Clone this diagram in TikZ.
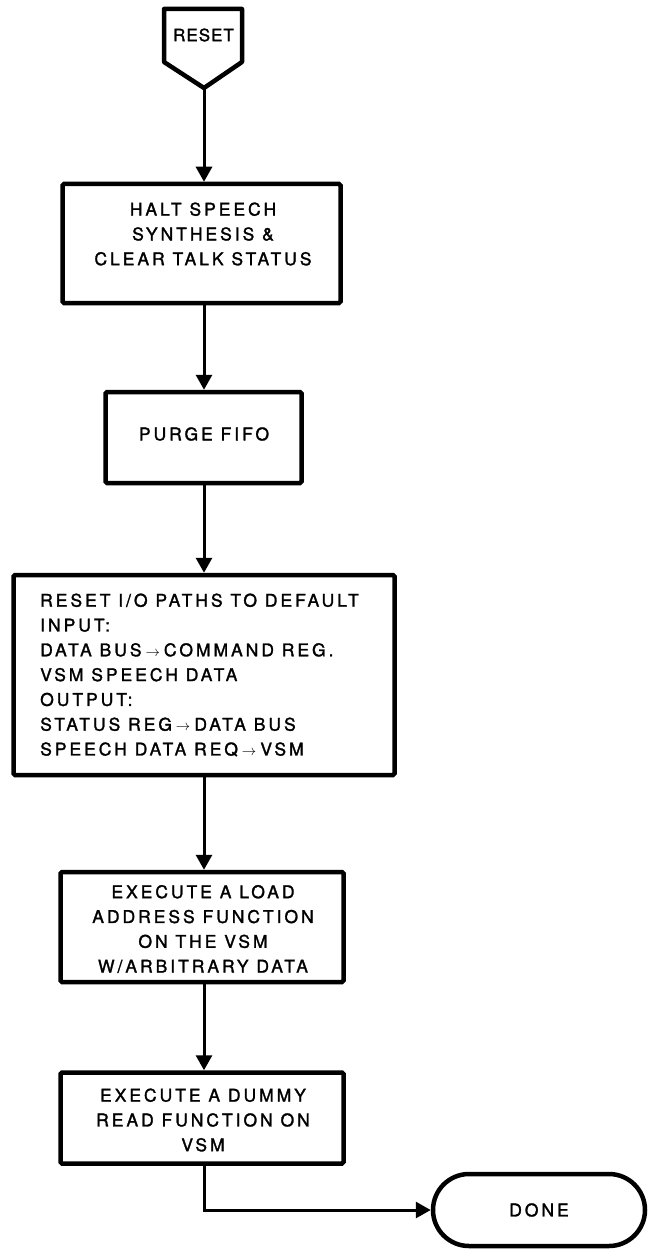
\documentclass[tikz,border=0pt]{standalone}
\usepackage{fontspec}
\setmainfont{TeX Gyre Heros}[LetterSpace=17,FakeBold=1.6]
\usetikzlibrary{arrows.meta,shapes.misc}
\newcommand\rarr{\hspace{4pt}{\fontsize{15}{15}\selectfont$\rightarrow$}\hspace{4pt}}
\begin{document}
\begin{tikzpicture}[x=1pt,y=1pt,
  fbox/.style={draw, line width=4.5pt, rounded corners=1.5pt, inner sep=0pt},
  txt/.style={inner sep=0pt, font=\fontsize{17.5}{24.8}\selectfont, align=center},
  conn/.style={line width=3pt, -{Triangle[width=16pt,length=15pt]}}]
\useasboundingbox (0,0) rectangle (648,-1252);
\coordinate (ax) at (204,0);
% off-page connector
\draw[line width=4.5pt, line join=round] (164,-9) -- (242,-9) -- (242,-62) -- (204,-88) -- (164,-62) -- cycle;
\node[txt, font=\fontsize{17}{24}\selectfont\addfontfeature{LetterSpace=6}] (reset) at (203.5,-35) {RESET};
\coordinate (resettip) at (204,-89);
% boxes
\node[fbox, minimum width=278pt, minimum height=119pt] (b1) at (201.5,-243.5) {};
\node[txt] (t1) at (203,-234) {HALT SPEECH\\SYNTHESIS \&\\CLEAR TALK STATUS};
\node[fbox, minimum width=196pt, minimum height=91pt] (b2) at (203.5,-437.5) {};
\node[txt] (t2) at (204,-434) {PURGE FIFO};
\node[fbox, minimum width=381pt, minimum height=200pt] (b3) at (204,-675) {};
\node[txt, align=left, anchor=west] (t3) at (40,-675) {RESET I/O PATHS TO DEFAULT\\INPUT:\\DATA BUS\rarr COMMAND REG.\\VSM SPEECH DATA\\OUTPUT:\\STATUS REG\rarr DATA BUS\\SPEECH DATA REQ\rarr VSM};
\node[fbox, minimum width=283pt, minimum height=110pt] (b4) at (202,-927) {};
\node[txt] (t4) at (203,-929) {EXECUTE A LOAD\\ADDRESS FUNCTION\\ON THE VSM\\W/ARBITRARY DATA};
\node[fbox, minimum width=283pt, minimum height=91pt] (b5) at (202,-1118) {};
\node[txt] (t5) at (203,-1120) {EXECUTE A DUMMY\\READ FUNCTION ON\\VSM};
\node[draw, line width=4.5pt, rounded rectangle, minimum width=212pt, minimum height=72pt, inner sep=0pt, font=\fontsize{17.5}{25}\selectfont] (done) at (539,-1210) {DONE};
% connectors
\draw[conn] (resettip) -- (resettip |- b1.north);
\draw[conn] (b1.south -| ax) -- (b2.north -| ax);
\draw[conn] (b2.south -| ax) -- (b3.north -| ax);
\draw[conn] (b3.south -| ax) -- (b4.north -| ax);
\draw[conn] (b4.south -| ax) -- (b5.north -| ax);
\draw[conn] (b5.south -| ax) |- (done.west);
\end{tikzpicture}
\end{document}
